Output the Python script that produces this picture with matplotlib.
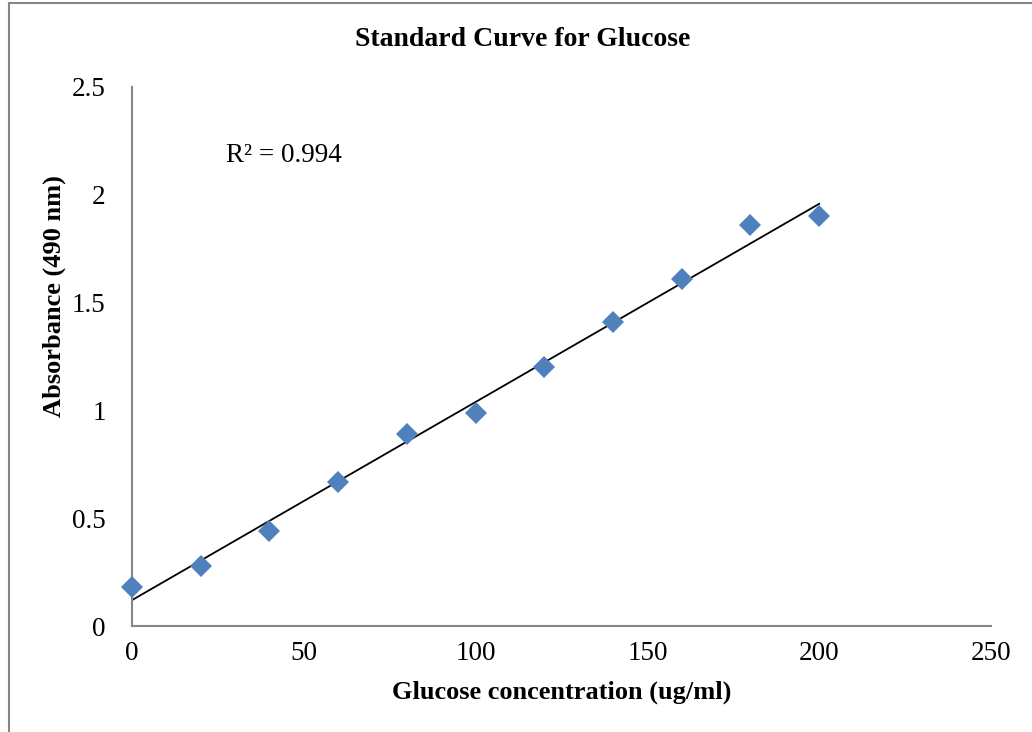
import matplotlib.pyplot as plt
import numpy as np
from matplotlib.patches import Rectangle

# glucose standards (ug/ml) and measured absorbance at 490 nm
concentration = [0, 20, 40, 60, 80, 100, 120, 140, 160, 180, 200]
absorbance = [0.18, 0.28, 0.44, 0.67, 0.89, 0.99, 1.20, 1.41, 1.61, 1.86, 1.90]

x_ticks = [0, 50, 100, 150, 200, 250]
y_ticks = [0, 0.5, 1, 1.5, 2, 2.5]
y_tick_labels = ['0', '0.5', '1', '1.5', '2', '2.5']

plt.rcParams['font.family'] = ['Liberation Serif', 'DejaVu Serif']

x = np.array(concentration)
y = np.array(absorbance)
slope, intercept = np.polyfit(x, y, 1)
fit = slope * x + intercept
r2 = 1 - np.sum((y - fit) ** 2) / np.sum((y - y.mean()) ** 2)

fig = plt.figure(figsize=(10.32, 7.32), dpi=100)
ax = fig.add_axes([132 / 1032, 1 - 626 / 732, (991 - 132) / 1032, (626 - 87) / 732])

ax.plot(x, fit, color='black', lw=1.3, zorder=2)
ax.plot(x, y, linestyle='none', marker='D', markersize=11,
        color='#4F81BD', markeredgewidth=0, zorder=3, clip_on=False)

ax.set_xlim(0, 250)
ax.set_ylim(0, 2.5)
ax.set_xticks(x_ticks)
ax.set_yticks(y_ticks)
ax.set_yticklabels(y_tick_labels)
ax.tick_params(length=0, labelsize=19.5)
ax.tick_params(axis='y', pad=19)
ax.tick_params(axis='x', pad=11)
for side in ['top', 'right']:
    ax.spines[side].set_visible(False)
for side in ['left', 'bottom']:
    ax.spines[side].set_color('#868686')
    ax.spines[side].set_linewidth(1.5)

ax.text(27.5, 2.18, f'R\u00b2 = {r2:.3f}', fontsize=19.5, va='center', ha='left')

fig.text(523 / 1032, 1 - 40 / 732, 'Standard Curve for Glucose',
         fontsize=20, fontweight='bold', ha='center', va='center')
fig.text(562 / 1032, 1 - 692 / 732, 'Glucose concentration (ug/ml)',
         fontsize=19, fontweight='bold', ha='center', va='center')
fig.text(54 / 1032, 1 - 296 / 732, 'Absorbance (490 nm)',
         fontsize=19, fontweight='bold', ha='center', va='center', rotation=90)

# chart area border
fig.patches.append(Rectangle((9 / 1032, -0.1), 1.2, 1.1 - 3 / 732,
                             transform=fig.transFigure, fill=False,
                             edgecolor='#868686', lw=1.5))

fig.savefig('out.png', dpi=100)
